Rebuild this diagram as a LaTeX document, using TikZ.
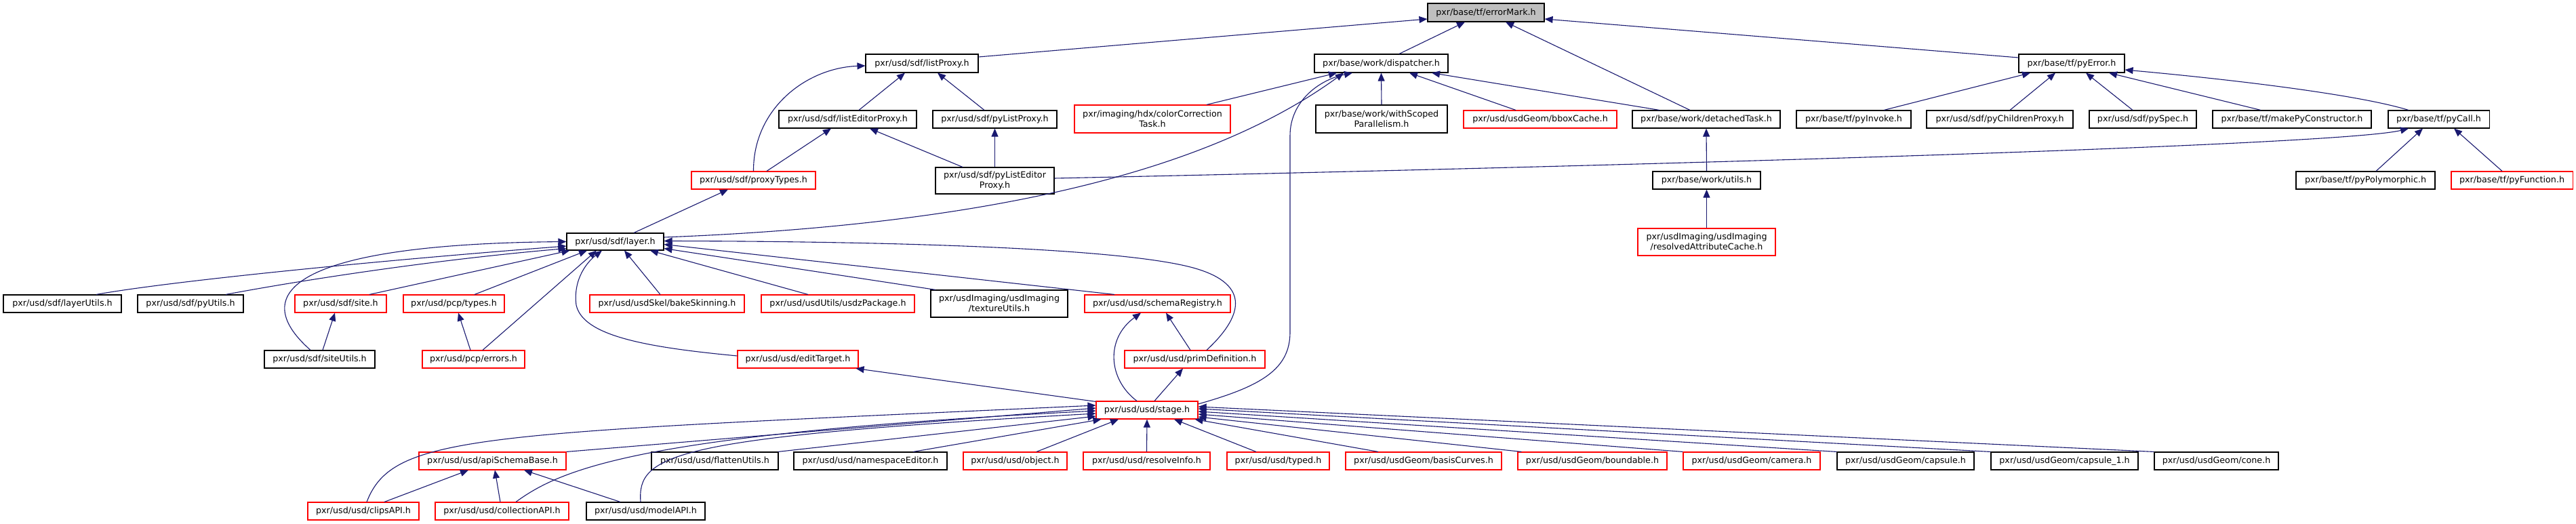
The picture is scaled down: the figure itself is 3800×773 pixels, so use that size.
\documentclass[tikz,border=0pt]{standalone}
\usepackage{fontspec}
\setmainfont{DejaVu Sans}
\usetikzlibrary{arrows.meta}
\definecolor{edgeblue}{RGB}{25,25,112}
\definecolor{errgray}{RGB}{191,191,191}
\definecolor{boxred}{RGB}{255,0,0}
\begin{document}
\begin{tikzpicture}[x=1pt,y=-1pt,
  nb/.style={draw=black, fill=white, line width=1.1pt, inner sep=0pt, align=center,
    minimum height=26pt, font=\fontsize{12.7}{14.8}\selectfont},
  nr/.style={nb, draw=boxred},
  edge/.style={draw=edgeblue, line width=1.1pt, -{Triangle[length=12pt,width=10pt]}, fill=none}]
\useasboundingbox (0,0) rectangle (3800,773);
\fill[white] (0,0) rectangle (3800,773);
% row A
\node[nb, fill=errgray, minimum width=172pt, minimum height=27pt] (errorMark) at (2192,18.5) {pxr/base/tf/errorMark.h};
% row B
\node[nb, minimum width=166pt, minimum height=27pt] (listProxy) at (1360,93.5) {pxr/usd/sdf/listProxy.h};
\node[nb, minimum width=197pt, minimum height=27pt] (dispatcher) at (2037.5,93.5) {pxr/base/work/dispatcher.h};
\node[nb, minimum width=156pt, minimum height=27pt] (pyError) at (3056,93.5) {pxr/base/tf/pyError.h};
% row C
\node[nb, minimum width=203pt] (listEditorProxy) at (1250.5,176) {pxr/usd/sdf/listEditorProxy.h};
\node[nb, minimum width=183pt] (pyListProxy) at (1467.5,176) {pxr/usd/sdf/pyListProxy.h};
\node[nr, minimum width=230pt, minimum height=41pt] (colorCorr) at (1700,175.5) {pxr/imaging/hdx/colorCorrection\\Task.h};
\node[nb, minimum width=194pt, minimum height=41pt] (withScoped) at (2038,175.5) {pxr/base/work/withScoped\\Parallelism.h};
\node[nr, minimum width=226pt] (bboxCache) at (2272,176) {pxr/usd/usdGeom/bboxCache.h};
\node[nb, minimum width=218pt] (detachedTask) at (2517,176) {pxr/base/work/detachedTask.h};
\node[nb, minimum width=169pt] (pyInvoke) at (2734.5,176) {pxr/base/tf/pyInvoke.h};
\node[nb, minimum width=216pt] (pyChildrenProxy) at (2950,176) {pxr/usd/sdf/pyChildrenProxy.h};
\node[nb, minimum width=158pt] (pySpec) at (3161,176) {pxr/usd/sdf/pySpec.h};
\node[nb, minimum width=234pt] (makePyCtor) at (3381,176) {pxr/base/tf/makePyConstructor.h};
\node[nb, minimum width=149pt] (pyCall) at (3597.5,176) {pxr/base/tf/pyCall.h};
% row D
\node[nr, minimum width=183pt] (proxyTypes) at (1111.5,266) {pxr/usd/sdf/proxyTypes.h};
\node[nb, minimum width=175pt, minimum height=39pt] (pyListEditorProxy) at (1467.5,266.5) {pxr/usd/sdf/pyListEditor\\Proxy.h};
\node[nb, minimum width=159pt] (utils) at (2517.5,266) {pxr/base/work/utils.h};
\node[nb, minimum width=205pt] (pyPolymorphic) at (3489.5,266) {pxr/base/tf/pyPolymorphic.h};
\node[nr, minimum width=179pt] (pyFunction) at (3705.5,266) {pxr/base/tf/pyFunction.h};
% row E
\node[nr, minimum width=203pt, minimum height=40pt] (resAttrCache) at (2517.5,357) {pxr/usdImaging/usdImaging\\/resolvedAttributeCache.h};
\node[nb, minimum width=143pt, minimum height=25pt] (layer) at (907.5,356.5) {pxr/usd/sdf/layer.h};
% row F
\node[nb, minimum width=174pt] (layerUtils) at (92,448) {pxr/usd/sdf/layerUtils.h};
\node[nb, minimum width=156pt] (pyUtils) at (281,448) {pxr/usd/sdf/pyUtils.h};
\node[nr, minimum width=135pt] (site) at (502.5,448) {pxr/usd/sdf/site.h};
\node[nr, minimum width=149pt] (pcpTypes) at (669.5,448) {pxr/usd/pcp/types.h};
\node[nr, minimum width=228pt] (bakeSkinning) at (984,448) {pxr/usd/usdSkel/bakeSkinning.h};
\node[nr, minimum width=226pt] (usdzPackage) at (1236,448) {pxr/usd/usdUtils/usdzPackage.h};
\node[nb, minimum width=202pt, minimum height=40pt] (textureUtils) at (1474,448) {pxr/usdImaging/usdImaging\\/textureUtils.h};
\node[nr, minimum width=215pt] (schemaRegistry) at (1707.5,448) {pxr/usd/usd/schemaRegistry.h};
% row G
\node[nb, minimum width=163pt] (siteUtils) at (471.5,530) {pxr/usd/sdf/siteUtils.h};
\node[nr, minimum width=151pt] (errors) at (698.5,530) {pxr/usd/pcp/errors.h};
\node[nr, minimum width=178pt] (editTarget) at (1177,530) {pxr/usd/usd/editTarget.h};
\node[nr, minimum width=207pt] (primDefinition) at (1762.5,530) {pxr/usd/usd/primDefinition.h};
% row H
\node[nr, minimum width=150pt] (stage) at (1692,605) {pxr/usd/usd/stage.h};
% row I
\node[nr, minimum width=217pt] (apiSchemaBase) at (726.5,680) {pxr/usd/usd/apiSchemaBase.h};
\node[nb, minimum width=187pt] (flattenUtils) at (1054.5,680) {pxr/usd/usd/flattenUtils.h};
\node[nb, minimum width=226pt] (namespaceEditor) at (1284,680) {pxr/usd/usd/namespaceEditor.h};
\node[nr, minimum width=153pt] (object) at (1497.5,680) {pxr/usd/usd/object.h};
\node[nr, minimum width=187pt] (resolveInfo) at (1691.5,680) {pxr/usd/usd/resolveInfo.h};
\node[nr, minimum width=151pt] (typed) at (1885.5,680) {pxr/usd/usd/typed.h};
\node[nr, minimum width=230pt] (basisCurves) at (2100,680) {pxr/usd/usdGeom/basisCurves.h};
\node[nr, minimum width=220pt] (boundable) at (2349,680) {pxr/usd/usdGeom/boundable.h};
\node[nr, minimum width=202pt] (camera) at (2584,680) {pxr/usd/usdGeom/camera.h};
\node[nb, minimum width=202pt] (capsule) at (2811,680) {pxr/usd/usdGeom/capsule.h};
\node[nb, minimum width=217pt] (capsuleOne) at (3045.5,680) {pxr/usd/usdGeom/capsule\_1.h};
\node[nb, minimum width=183pt] (cone) at (3269.5,680) {pxr/usd/usdGeom/cone.h};
% row J
\node[nr, minimum width=164pt] (clipsAPI) at (536,754) {pxr/usd/usd/clipsAPI.h};
\node[nr, minimum width=197pt] (collectionAPI) at (740.5,754) {pxr/usd/usd/collectionAPI.h};
\node[nb, minimum width=175pt] (modelAPI) at (952.5,754) {pxr/usd/usd/modelAPI.h};
% edges to errorMark
\draw[edge] ([xshift=26.5pt]dispatcher.north) -- ([xshift=-31pt]errorMark.south);
\draw[edge] ([xshift=-24pt]detachedTask.north) -- ([xshift=29pt]errorMark.south);
\draw[edge] ([yshift=8.5pt]pyError.west) -- ([yshift=-9.5pt]errorMark.east);
\draw[edge] ([yshift=9.5pt]listProxy.east) -- ([yshift=-9.5pt]errorMark.west);
% listProxy family
\draw[edge] ([xshift=16.5pt]listEditorProxy.north) -- ([xshift=-25pt]listProxy.south);
\draw[edge] ([xshift=-15.5pt]pyListProxy.north) -- ([xshift=23pt]listProxy.south);
\draw[edge] (proxyTypes.north) .. controls (1111,160) and (1190,100) .. ([yshift=-3.5pt]listProxy.west);
\draw[edge] ([xshift=19.5pt]proxyTypes.north) -- ([xshift=-24.5pt]listEditorProxy.south);
\draw[edge] ([xshift=-47.5pt]pyListEditorProxy.north) -- ([xshift=32.5pt]listEditorProxy.south);
\draw[edge] (pyListEditorProxy.north) -- (pyListProxy.south);
\draw[edge] ([yshift=3.5pt]pyListEditorProxy.east) .. controls (2400,245) and (3450,215) .. ([xshift=-44.5pt]pyCall.south);
% dispatcher
\draw[edge] ([xshift=80pt]colorCorr.north) -- ([xshift=-65.5pt]dispatcher.south);
\draw[edge] (withScoped.north) -- (dispatcher.south);
\draw[edge] ([xshift=-36pt]bboxCache.north) -- ([xshift=41.5pt]dispatcher.south);
\draw[edge] ([xshift=-69pt]detachedTask.north) -- ([xshift=74.5pt]dispatcher.south);
\draw[edge] ([yshift=6.5pt]layer.east) .. controls (1500,330) and (1800,240) .. ([xshift=-55.5pt]dispatcher.south);
\draw[edge] ([yshift=9pt]stage.east) .. controls (1860,570) and (1903,545) .. (1903,490) -- (1903,200) .. controls (1903,150) and (1945,118) .. ([xshift=-42.5pt]dispatcher.south);
\draw[edge] (utils.north) -- (detachedTask.south);
\draw[edge] (resAttrCache.north) -- (utils.south);
% pyError
\draw[edge] ([xshift=44.5pt]pyInvoke.north) -- ([xshift=-61pt]pyError.south);
\draw[edge] ([xshift=15pt]pyChildrenProxy.north) -- ([xshift=-24pt]pyError.south);
\draw[edge] ([xshift=-15pt]pySpec.north) -- ([xshift=21pt]pyError.south);
\draw[edge] ([xshift=-46pt]makePyCtor.north) -- ([xshift=55pt]pyError.south);
\draw[edge] ([xshift=-44.5pt]pyCall.north) .. controls (3480,140) and (3300,118) .. ([yshift=-9.5pt]pyError.east);
\draw[edge] ([xshift=15.5pt]pyPolymorphic.north) -- ([xshift=-23.5pt]pyCall.south);
\draw[edge] ([xshift=-14.5pt]pyFunction.north) -- ([xshift=22.5pt]pyCall.south);
% layer
\draw[edge] ([xshift=27.5pt]layer.north) -- ([xshift=-37.5pt]proxyTypes.south);
\draw[edge] ([xshift=50pt]layerUtils.north) .. controls (250,415) and (550,385) .. ([yshift=-6.5pt]layer.west);
\draw[edge] ([xshift=52pt]pyUtils.north) .. controls (420,418) and (620,385) .. ([yshift=-10pt]layer.west);
\draw[edge] ([xshift=-13.5pt]siteUtils.north) .. controls (360,430) and (440,360) .. (layer.west);
\draw[edge] ([xshift=42.5pt]site.north) -- ([xshift=-67pt]layer.south);
\draw[edge] ([xshift=30.5pt]pcpTypes.north) -- ([xshift=-41.5pt]layer.south);
\draw[edge] ([xshift=13.5pt]errors.north) -- ([xshift=-27.5pt]layer.south);
\draw[edge] ([yshift=5pt]editTarget.west) .. controls (950,512) and (860,495) .. (850,450) .. controls (845,410) and (868,385) .. ([xshift=-19.5pt]layer.south);
\draw[edge] ([xshift=-10pt]bakeSkinning.north) -- ([xshift=13.5pt]layer.south);
\draw[edge] ([xshift=-44pt]usdzPackage.north) -- ([xshift=51.5pt]layer.south);
\draw[edge] ([xshift=-94pt]textureUtils.north) -- ([yshift=-10pt]layer.east);
\draw[edge] ([xshift=-63.5pt]schemaRegistry.north) -- ([yshift=-4pt]layer.east);
\draw[edge] ([xshift=17.5pt]primDefinition.north) .. controls (1830,470) and (1850,420) .. (1760,395) .. controls (1650,365) and (1300,356) .. ([yshift=1pt]layer.east);
\draw[edge] ([xshift=4.5pt]siteUtils.north) -- ([xshift=-8.5pt]site.south);
\draw[edge] ([xshift=-4.5pt]errors.north) -- ([xshift=6.5pt]pcpTypes.south);
% schema / stage
\draw[edge] ([xshift=-6.5pt]primDefinition.north) -- ([xshift=12.5pt]schemaRegistry.south);
\draw[edge] ([xshift=-15pt]stage.north) .. controls (1635,560) and (1630,500) .. ([xshift=-24.5pt]schemaRegistry.south);
\draw[edge] ([xshift=11pt]stage.north) -- ([xshift=-17.5pt]primDefinition.south);
\draw[edge] ([yshift=-1pt]stage.north west) -- ([xshift=-4pt]editTarget.south east);
\draw[edge] (apiSchemaBase.north east) -- ([yshift=3pt]stage.west);
\draw[edge] ([xshift=5pt]clipsAPI.north) .. controls (580,640) and (700,640) .. ([yshift=7pt]stage.west);
\draw[edge] ([xshift=20.5pt]collectionAPI.north) .. controls (830,690) and (950,640) .. ([yshift=-1pt]stage.west);
\draw[edge] ([xshift=-7.5pt]modelAPI.north) .. controls (940,670) and (990,645) .. ([yshift=-5pt]stage.west);
\draw[edge] ([xshift=-1pt]flattenUtils.north east) -- ([yshift=-9pt]stage.west);
\draw[edge] ([xshift=63pt]namespaceEditor.north) -- ([xshift=8pt]stage.south west);
\draw[edge] ([xshift=31.5pt]object.north) -- ([xshift=-42pt]stage.south);
\draw[edge] (resolveInfo.north) -- (stage.south);
\draw[edge] ([xshift=-32.5pt]typed.north) -- ([xshift=40pt]stage.south);
\draw[edge] ([xshift=-67pt]basisCurves.north) -- ([xshift=-5pt]stage.south east);
\draw[edge] ([xshift=6pt]boundable.north west) -- ([yshift=-10pt]stage.east);
\draw[edge] (camera.north west) -- ([yshift=-6pt]stage.east);
\draw[edge] (capsule.north west) -- ([yshift=-2pt]stage.east);
\draw[edge] (capsuleOne.north west) -- ([yshift=2pt]stage.east);
\draw[edge] (cone.north west) -- ([yshift=5pt]stage.east);
\draw[edge] ([xshift=31pt]clipsAPI.north) -- ([xshift=-35.5pt]apiSchemaBase.south);
\draw[edge] ([xshift=-2.5pt]collectionAPI.north) -- ([xshift=3.5pt]apiSchemaBase.south);
\draw[edge] ([xshift=-37.5pt]modelAPI.north) -- ([xshift=46.5pt]apiSchemaBase.south);
\end{tikzpicture}
\end{document}
